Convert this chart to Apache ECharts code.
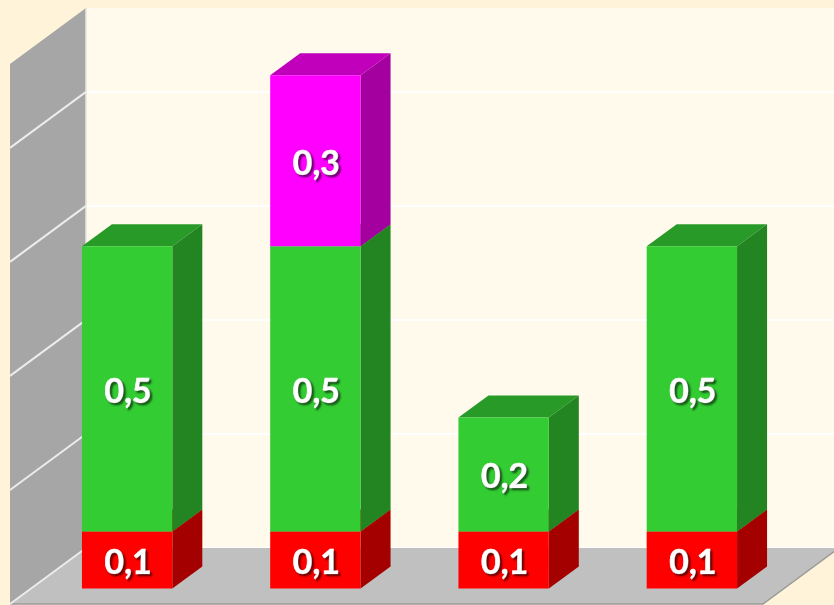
<!DOCTYPE html>
<html>
<head>
<meta charset="utf-8">
<style>
  html, body { margin: 0; padding: 0; background: #fff3d9; }
  #chart { width: 834px; height: 605px; }
</style>
<script src="https://cdn.jsdelivr.net/npm/echarts@6/dist/echarts.min.js"></script>
</head>
<body>
<div id="chart"></div>
<script>
const categories = ['1', '2', '3', '4'];
const redValues = [0.1, 0.1, 0.1, 0.1];
const greenValues = [0.5, 0.5, 0.2, 0.5];
const magentaValues = [null, 0.3, null, null];
const gridValues = [0, 0.2, 0.4, 0.6, 0.8];
const axisMax = 0.947;

// pixel depth of the fake 3d box, measured from the back wall
const wallDepth = [-76, 56];
const barFront = [-53, 40.5];
const barBack = [-23, 18.5];

function fmt(v) {
  return String(v).replace('.', ',');
}

// [category, stack base, stack top, value]
function stackData(values, below) {
  const rows = [];
  values.forEach((v, i) => {
    if (v == null) return;
    let base = 0;
    below.forEach(arr => { base += arr[i] || 0; });
    rows.push([i, base, base + v, v]);
  });
  return rows;
}

function shift(p, d) {
  return [p[0] + d[0], p[1] + d[1]];
}

function renderBar(colors) {
  return (params, api) => {
    const cat = api.value(0);
    const bottom = api.coord([cat, api.value(1)]);
    const top = api.coord([cat, api.value(2)]);
    const half = api.size([1, 0])[0] * 0.48 / 2;

    const fl = shift([bottom[0] - half, bottom[1]], barFront);
    const fr = shift([bottom[0] + half, bottom[1]], barFront);
    const tl = shift([top[0] - half, top[1]], barFront);
    const tr = shift([top[0] + half, top[1]], barFront);
    const br = shift([bottom[0] + half, bottom[1]], barBack);
    const trb = shift([top[0] + half, top[1]], barBack);
    const tlb = shift([top[0] - half, top[1]], barBack);

    return {
      type: 'group',
      children: [
        { type: 'polygon', shape: { points: [tl, tr, trb, tlb] }, style: { fill: colors.top } },
        { type: 'polygon', shape: { points: [fr, br, trb, tr] }, style: { fill: colors.side } },
        { type: 'polygon', shape: { points: [tl, tr, fr, fl] }, style: { fill: colors.front } },
        {
          type: 'text',
          x: (fl[0] + fr[0]) / 2 + 1,
          y: (fl[1] + tl[1]) / 2 + 3,
          style: {
            text: fmt(api.value(3)),
            fill: '#fff',
            stroke: '#fff',
            lineWidth: 0.7,
            font: 'bold 34px Lato',
            align: 'center',
            verticalAlign: 'middle',
            textShadowColor: 'rgba(0,0,0,0.55)',
            textShadowBlur: 2,
            textShadowOffsetX: 2,
            textShadowOffsetY: 2
          }
        }
      ]
    };
  };
}

// left wall and floor hang off the back wall corners
function renderWalls(params) {
  const c = params.coordSys;
  const tl = [c.x, c.y];
  const bl = [c.x, c.y + c.height];
  const br = [c.x + c.width, c.y + c.height];
  return {
    type: 'group',
    children: [
      { type: 'polygon', shape: { points: [tl, bl, shift(bl, wallDepth), shift(tl, wallDepth)] }, style: { fill: '#a6a6a6' } },
      { type: 'polygon', shape: { points: [bl, br, shift(br, wallDepth), shift(bl, wallDepth)] }, style: { fill: '#c0c0c0' } },
      {
        type: 'polyline',
        shape: { points: [shift(bl, wallDepth), shift(br, wallDepth), br] },
        style: { fill: 'none', stroke: '#9a9a9a', lineWidth: 1.5 }
      },
      {
        type: 'line',
        shape: { x1: c.x, y1: c.y, x2: c.x, y2: c.y + c.height },
        style: { stroke: '#e6e6e0', lineWidth: 1.5 }
      }
    ]
  };
}

function renderWallLine(params, api) {
  const p = api.coord([0, api.value(0)]);
  const start = [params.coordSys.x, p[1]];
  const end = shift(start, wallDepth);
  return {
    type: 'line',
    shape: { x1: start[0], y1: start[1], x2: end[0], y2: end[1] },
    style: { stroke: '#ececec', lineWidth: 2 }
  };
}

const barSeries = (name, rows, colors) => ({
  name,
  type: 'custom',
  z: 5,
  clip: false,
  encode: { x: 0, y: [1, 2] },
  data: rows,
  renderItem: renderBar(colors)
});

const myChart = echarts.init(document.getElementById('chart'));
myChart.setOption({
  animation: false,
  backgroundColor: '#fff3d9',
  grid: {
    show: true,
    left: 86,
    top: 8,
    width: 753,
    height: 540,
    outerBoundsMode: 'none',
    backgroundColor: '#fffaec',
    borderWidth: 0
  },
  xAxis: {
    type: 'category',
    data: categories,
    axisLine: { show: false },
    axisTick: { show: false },
    axisLabel: { show: false }
  },
  yAxis: {
    type: 'value',
    min: 0,
    max: axisMax,
    interval: 0.2,
    axisLine: { show: false },
    axisTick: { show: false },
    axisLabel: { show: false },
    splitLine: { show: true, showMaxLine: false, lineStyle: { color: '#ffffff', width: 2 } }
  },
  series: [
    { type: 'custom', z: 2, clip: false, data: [0], renderItem: renderWalls, encode: { y: 0 } },
    { type: 'custom', z: 3, clip: false, data: gridValues.map(v => [v]), renderItem: renderWallLine, encode: { y: 0 } },
    barSeries('red', stackData(redValues, []), { front: '#ff0000', side: '#a50000', top: '#c00000' }),
    barSeries('green', stackData(greenValues, [redValues]), { front: '#33cc33', side: '#228522', top: '#289a28' }),
    barSeries('magenta', stackData(magentaValues, [redValues, greenValues]), { front: '#ff00ff', side: '#a3009f', top: '#c000bb' })
  ]
});
</script>
</body>
</html>
